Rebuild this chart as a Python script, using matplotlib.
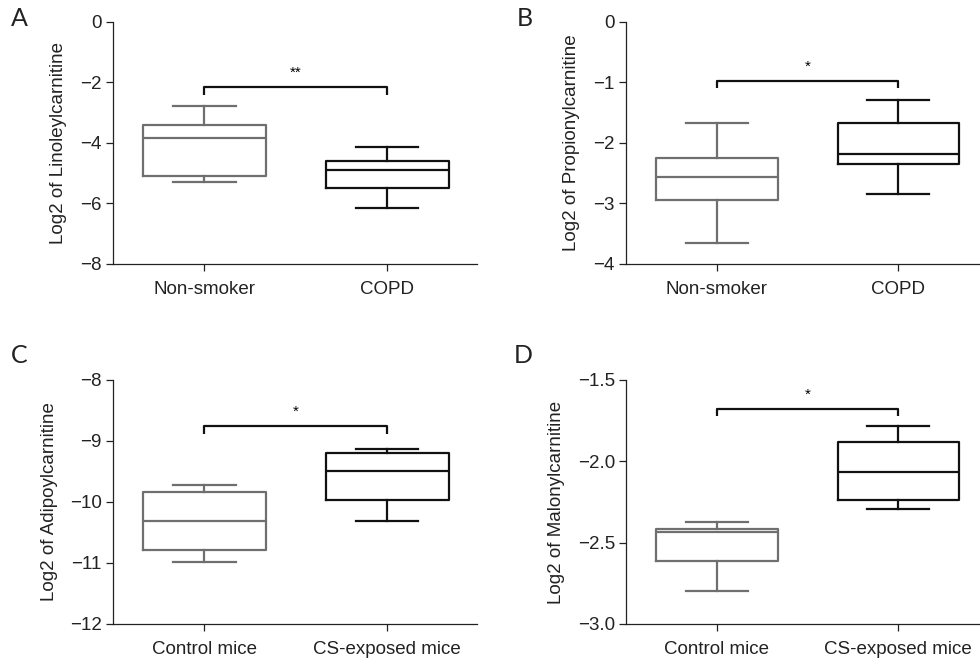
import matplotlib.pyplot as plt

plt.rcParams['font.family'] = ['Liberation Sans', 'DejaVu Sans']

# box stats: whisker low, q1, median, q3, whisker high
groups_ab = ["Non-smoker", "COPD"]
groups_cd = ["Control mice", "CS-exposed mice"]

lino = [[-5.29, -5.09, -3.83, -3.39, -2.77], [-6.16, -5.49, -4.90, -4.58, -4.14]]
prop = [[-3.65, -2.95, -2.56, -2.25, -1.67], [-2.84, -2.35, -2.19, -1.67, -1.29]]
adip = [[-10.98, -10.78, -10.31, -9.83, -9.72], [-10.31, -9.96, -9.50, -9.19, -9.13]]
malo = [[-2.80, -2.61, -2.434, -2.413, -2.376], [-2.296, -2.237, -2.064, -1.880, -1.783]]

panels = [
    ("A", lino, groups_ab, "Log2 of Linoleylcarnitine", (-8, 0), [-8, -6, -4, -2, 0], "{:g}", -2.16, "**"),
    ("B", prop, groups_ab, "Log2 of Propionylcarnitine", (-4, 0), [-4, -3, -2, -1, 0], "{:g}", -0.97, "*"),
    ("C", adip, groups_cd, "Log2 of Adipoylcarnitine", (-12, -8), [-12, -11, -10, -9, -8], "{:g}", -8.76, "*"),
    ("D", malo, groups_cd, "Log2 of Malonylcarnitine", (-3.0, -1.5), [-3.0, -2.5, -2.0, -1.5], "{:.1f}", -1.679, "*"),
]

fig = plt.figure(figsize=(9.8, 6.58), dpi=100)

rects = [
    [0.1153, 0.5988, 0.3714, 0.3678],
    [0.6388, 0.5988, 0.3612, 0.3678],
    [0.1153, 0.0517, 0.3714, 0.3708],
    [0.6388, 0.0517, 0.3612, 0.3708],
]
xlims = [(-0.5, 1.49), (-0.5, 1.45), (-0.5, 1.49), (-0.5, 1.45)]
letter_pos = [(11, 7), (517, 7), (11, 344), (514, 344)]
ylab_x = [67, 580, 58, 565]
colors = ["#6f6f6f", "#111111"]

for i, (letter, stats, groups, ylab, ylim, yticks, fmt, brk, star) in enumerate(panels):
    ax = fig.add_axes(rects[i])
    rng = ylim[1] - ylim[0]
    for j, s in enumerate(stats):
        st = [dict(whislo=s[0], q1=s[1], med=s[2], q3=s[3], whishi=s[4], fliers=[])]
        c = colors[j]
        lw = 1.6
        ax.bxp(st, positions=[j], widths=0.67, showfliers=False,
               boxprops=dict(color=c, linewidth=lw),
               medianprops=dict(color=c, linewidth=lw),
               whiskerprops=dict(color=c, linewidth=lw),
               capprops=dict(color=c, linewidth=lw),
               capwidths=0.34)
    # significance bracket
    drop = rng * 0.03
    ax.plot([0, 0, 1, 1], [brk - drop, brk, brk, brk - drop], color="#111111", lw=1.6,
            solid_capstyle="butt", clip_on=False)
    ax.text(0.5, brk + rng * 0.03, star, ha="center", va="bottom", fontsize=11)

    ax.set_xlim(*xlims[i])
    ax.set_ylim(*ylim)
    ax.set_yticks(yticks)
    ax.set_yticklabels([fmt.format(v).replace("-", "\u2212") for v in yticks])
    ax.set_xticks([0, 1])
    ax.set_xticklabels(groups)
    ax.spines["top"].set_visible(False)
    ax.spines["right"].set_visible(False)
    for sp in ("left", "bottom"):
        ax.spines[sp].set_linewidth(0.9)
        ax.spines[sp].set_color("#222222")
    ax.tick_params(direction="out", length=5, width=0.9, labelsize=13.5, colors="#222222", pad=3)
    ax.tick_params(axis="x", pad=7)
    ax.set_ylabel(ylab, fontsize=13.5, color="#222222")
    ax.yaxis.set_label_coords((ylab_x[i] / 980 - rects[i][0]) / rects[i][2], 0.5)

    lx, ly = letter_pos[i]
    fig.text(lx / 980, 1 - ly / 658, letter, fontsize=18, family=["Lato", "DejaVu Sans"],
             ha="left", va="top", color="#222222")

fig.savefig("out.png", dpi=100)
